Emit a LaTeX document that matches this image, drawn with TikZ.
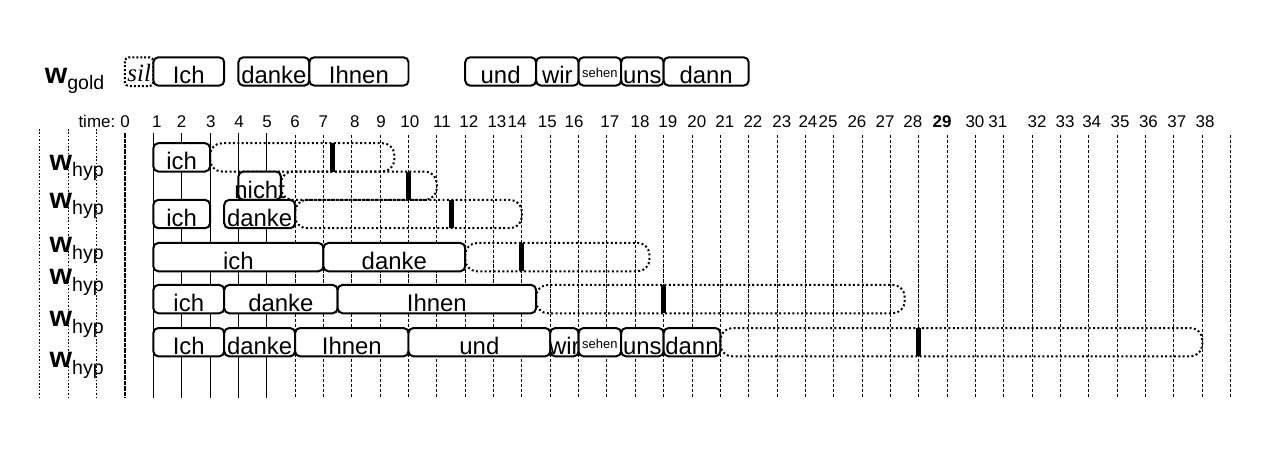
\documentclass[tikz,border=0pt]{standalone}
\usepackage{fontspec}
\setmainfont{Liberation Sans}
\newfontfamily\silfont{Liberation Serif}

% one word of a hypothesis: name, from, to, top, text
\newcommand{\wordbox}[5]{%
  \draw[wordbox] (#2,#4) rectangle (#3,#4+1);
  \node[wordtext] (#1) at ({(#2+#3)/2},#4+0.94) {#5};}
% the part still to come, with the cursor
\newcommand{\restbox}[4]{%
  \draw[restbox] (#1,#3) rectangle (#2,#3+1);
  \draw[cursor] (#4,#3) -- (#4,#3+1);}
\newcommand{\wlab}[3]{%
  \node[wlabel] (#1) at #2 {{\bfseries\fontsize{14.5}{14}\selectfont w}\raisebox{-3.2pt}{\fontsize{9.8}{10}\selectfont #3}};}
\newcommand{\smallword}{\raisebox{3.2pt}{\fontsize{6.5}{7}\selectfont sehen}}

\begin{document}
\begin{tikzpicture}[x=0.5cm, y=-0.5cm,
    wordbox/.style={draw, fill=white, line width=1pt, rounded corners=2.5pt},
    restbox/.style={draw, line width=1pt, dash pattern=on 1pt off 1.2pt, rounded corners=6pt},
    silbox/.style={draw, line width=1pt, dash pattern=on 1pt off 1pt, rounded corners=2pt},
    wordtext/.style={anchor=base, inner sep=0pt, font=\fontsize{12}{12}\selectfont},
    timelabel/.style={anchor=base, inner sep=0pt, font=\fontsize{8.5}{9}\selectfont},
    wlabel/.style={anchor=base west, inner sep=0pt},
    cursor/.style={line width=2.5pt},
    gridline/.style={line width=0.5pt, dash pattern=on 1.6pt off 0.9pt}]

    \useasboundingbox (-4.409,0) rectangle (40.882,15.944);

    % Time grid
    \foreach \k in {-3,-2,-1}
        \draw[line width=0.5pt, dash pattern=on 0.8pt off 0.9pt] (\k,4.55) -- (\k,14.05);
    \draw[line width=0.6pt, dash pattern=on 2.2pt off 0.5pt] (0,4.7) -- (0,14.05);
    \foreach \k in {1,...,5}
        \draw[line width=0.4pt] (\k,4.7) -- (\k,14.05);
    \foreach \k in {6,...,39}
        \draw[gridline] (\k,4.76) -- (\k,14.05);

    % Time labels
    \node[timelabel, anchor=base east] (time) at (-0.33,4.48) {time:};
    \foreach \xp/\lab [count=\i] in {0/0, 1.12/1, 2/2, 3.03/3, 4.02/4, 5.01/5,
        6/6, 7/7, 8.11/8, 9.03/9, 10.05/10, 11.18/11, 12.13/12, 13.12/13,
        13.83/14, 14.9/15, 15.84/16, 17.1/17, 18.17/18, 19.15/19, 20.17/20,
        21.16/21, 22.15/22, 23.17/23, 24.09/24, 24.8/25, 25.82/26, 26.81/27,
        27.79/28, 28.82/\textbf{29}, 29.98/30, 30.79/31, 32.17/32, 33.16/33,
        34.1/34, 35.1/35, 36.1/36, 37.1/37, 38.1/38}
        \node[timelabel] (t\i) at (\xp,4.48) {\lab};

    % Row labels
    \wlab{gold}{(-2.84,2.93)}{gold}
    \wlab{hypa}{(-2.67,6.0)}{hyp}
    \wlab{hypb}{(-2.67,7.34)}{hyp}
    \wlab{hypc}{(-2.67,8.92)}{hyp}
    \wlab{hypd}{(-2.67,10.05)}{hyp}
    \wlab{hype}{(-2.67,11.53)}{hyp}
    \wlab{hypf}{(-2.67,12.98)}{hyp}

    % Gold words
    \draw[silbox] (0,2.02) rectangle (1,3.04);
    \node[inner sep=0pt, anchor=base, font=\silfont\itshape\fontsize{12.5}{12}\selectfont] (sil) at (0.5,2.86) {sil};
    \wordbox{g1}{1}{3.5}{2.02}{Ich}
    \wordbox{g2}{4}{6.5}{2.02}{danke}
    \wordbox{g3}{6.5}{10}{2.02}{Ihnen}
    \wordbox{g4}{12}{14.5}{2.02}{und}
    \wordbox{g5}{14.5}{16}{2.02}{wir}
    \wordbox{g6}{16}{17.5}{2.02}{\smallword}
    \wordbox{g7}{17.5}{19}{2.02}{uns}
    \wordbox{g8}{19}{22}{2.02}{dann}

    % Hypotheses
    \wordbox{a1}{1}{3}{5.05}{ich}
    \restbox{3}{9.5}{5.05}{7.32}

    \wordbox{b1}{4}{5.5}{6.05}{nicht}
    \restbox{5.5}{11}{6.05}{10}

    \wordbox{c1}{1}{3}{7.05}{ich}
    \wordbox{c2}{3.5}{6}{7.05}{danke}
    \restbox{6}{14}{7.05}{11.5}

    \wordbox{d1}{1}{7}{8.57}{ich}
    \wordbox{d2}{7}{12}{8.57}{danke}
    \restbox{12}{18.5}{8.57}{14}

    \wordbox{e1}{1}{3.5}{10.05}{ich}
    \wordbox{e2}{3.5}{7.5}{10.05}{danke}
    \wordbox{e3}{7.5}{14.5}{10.05}{Ihnen}
    \restbox{14.5}{27.5}{10.05}{19}

    \wordbox{f1}{1}{3.5}{11.57}{Ich}
    \wordbox{f2}{3.5}{6}{11.57}{danke}
    \wordbox{f3}{6}{10}{11.57}{Ihnen}
    \wordbox{f4}{10}{15}{11.57}{und}
    \wordbox{f5}{15}{16}{11.57}{wir}
    \wordbox{f6}{16}{17.5}{11.57}{\smallword}
    \wordbox{f7}{17.5}{19}{11.57}{uns}
    \wordbox{f8}{19}{21}{11.57}{dann}
    \restbox{21}{38}{11.57}{28}

\end{tikzpicture}
\end{document}
